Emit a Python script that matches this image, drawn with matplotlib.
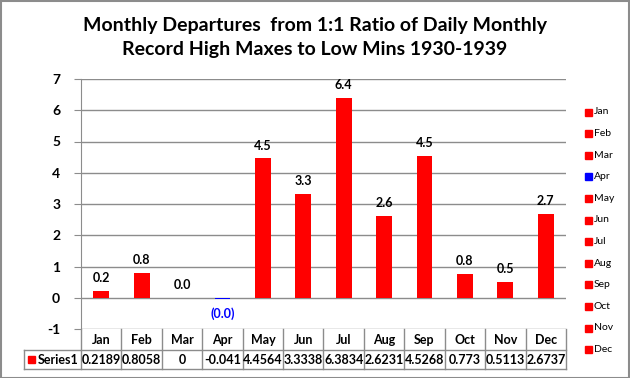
import matplotlib.pyplot as plt
from matplotlib.patches import Rectangle
from matplotlib.lines import Line2D

months = ['Jan', 'Feb', 'Mar', 'Apr', 'May', 'Jun', 'Jul', 'Aug', 'Sep', 'Oct', 'Nov', 'Dec']
values = [0.2189, 0.8058, 0, -0.041, 4.4564, 3.3338, 6.3834, 2.6231, 4.5268, 0.773, 0.5113, 2.6737]
table_text = ['0.2189', '0.8058', '0', '-0.041', '4.4564', '3.3338', '6.3834', '2.6231',
              '4.5268', '0.773', '0.5113', '2.6737']
series_name = 'Series1'

W, H = 630, 378
fig = plt.figure(figsize=(W / 100, H / 100), dpi=100)
plt.rcParams['font.family'] = ['Lato', 'DejaVu Sans']

# plot area in pixels
x0, x1 = 81, 566
ytop, ybot = 79, 329
ax = fig.add_axes([x0 / W, 1 - ybot / H, (x1 - x0) / W, (ybot - ytop) / H])

colors = ['blue' if v < 0 else 'red' for v in values]
xs = range(len(months))
ax.bar(xs, values, width=0.39, color=colors, zorder=3)

ax.set_xlim(-0.5, len(months) - 0.5)
ax.set_ylim(-1, 7)
ax.set_yticks(range(-1, 8))
ax.set_yticklabels([str(t) for t in range(-1, 8)], fontsize=10, fontweight='bold')
ax.yaxis.grid(True, color='#8c8c8c', lw=1, zorder=0)
ax.set_xticks([])
for s in ['top', 'right', 'bottom']:
    ax.spines[s].set_visible(False)
ax.spines['left'].set_color('#8c8c8c')
ax.tick_params(axis='y', length=5, color='#8c8c8c', pad=10)

for i, v in enumerate(values):
    if v < 0:
        ax.annotate('(%.1f)' % abs(v), (i, v), xytext=(0, -6), textcoords='offset points',
                    ha='center', va='top', fontsize=9, fontweight='bold', color='blue')
    else:
        ax.annotate('%.1f' % v, (i, v), xytext=(0, 5), textcoords='offset points',
                    ha='center', va='bottom', fontsize=9, fontweight='bold', color='black')

# data table under the axis
gray = '#8c8c8c'
colw = (x1 - x0) / len(months)
r0, r1, r2 = 329, 350, 369
lab_left = 24


def fx(px):
    return px / W


def fy(py):
    return 1 - py / H


def hline(xa, xb, yy):
    fig.add_artist(Line2D([fx(xa), fx(xb)], [fy(yy), fy(yy)], color=gray, lw=1))


def vline(xx, ya, yb):
    fig.add_artist(Line2D([fx(xx), fx(xx)], [fy(ya), fy(yb)], color=gray, lw=1))


hline(lab_left, x1, r1)
hline(lab_left, x1, r2)
vline(lab_left, r1, r2)
for k in range(len(months) + 1):
    vline(x0 + k * colw, r0, r2)
for k, m in enumerate(months):
    cx = x0 + (k + 0.5) * colw
    fig.text(fx(cx), fy((r0 + r1) / 2), m, ha='center', va='center', fontsize=9, fontweight='bold')
    fig.text(fx(cx), fy((r1 + r2) / 2), table_text[k], ha='center', va='center', fontsize=9,
             fontweight='bold')
fig.add_artist(Rectangle((fx(28), fy(363)), 7 / W, 7 / H, color='red'))
fig.text(fx(38), fy((r1 + r2) / 2), series_name, ha='left', va='center', fontsize=9, fontweight='bold')

# legend on the right
for k, m in enumerate(months):
    yy = 112 + k * 21.6
    fig.add_artist(Rectangle((fx(585), fy(yy + 3.5)), 7 / W, 7 / H, color=colors[k]))
    fig.text(fx(594), fy(yy), m, ha='left', va='center', fontsize=7.5)

fig.text(0.5, fy(25), 'Monthly Departures  from 1:1 Ratio of Daily Monthly', ha='center', va='center',
         fontsize=14, fontweight='bold')
fig.text(0.5, fy(50), 'Record High Maxes to Low Mins 1930-1939', ha='center', va='center',
         fontsize=14, fontweight='bold')

fig.add_artist(Rectangle((0.5 / W, 0.5 / H), 1 - 1.5 / W, 1 - 1.5 / H, fill=False, ec=gray, lw=1.5))

fig.savefig('out.png', dpi=100)
